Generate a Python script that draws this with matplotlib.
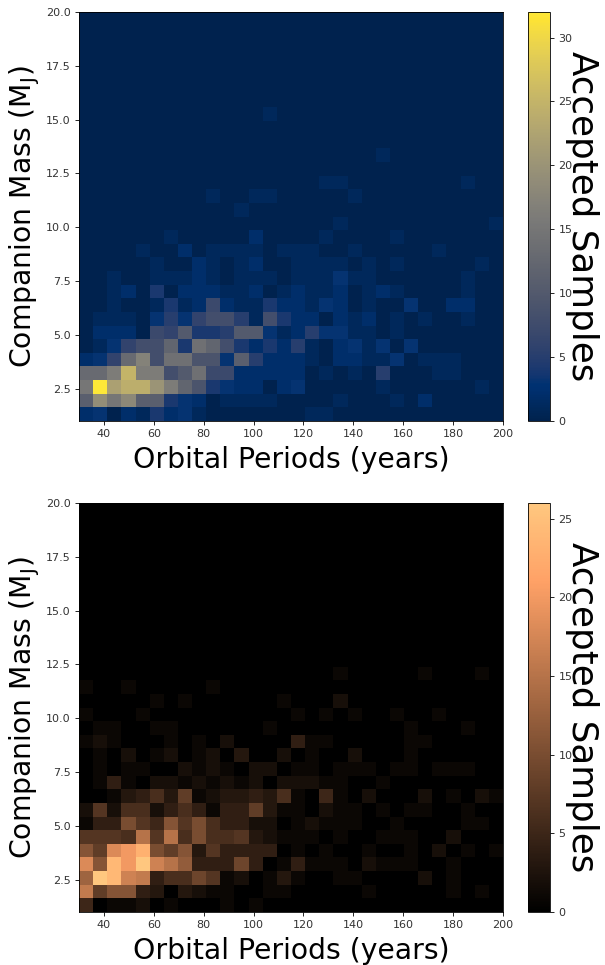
import numpy as np
import matplotlib
matplotlib.use("Agg")
import matplotlib.pyplot as plt

period_edges = np.linspace(30, 200, 31)
mass_edges = np.linspace(1, 20, 31)
x_ticks = [40, 60, 80, 100, 120, 140, 160, 180, 200]
y_ticks = [2.5, 5.0, 7.5, 10.0, 12.5, 15.0, 17.5, 20.0]

# rows run from the lowest mass bin upward, columns from the shortest period
counts_top = [
    [2,3,0,2,1,4,2,3,1,0,0,0,0,0,0, 0,1,1,0,0,0,0,0,0,0,0,0,0,0,0],
    [11,19,15,18,11,11,4,3,2,0,1,1,1,1,0, 0,0,0,1,0,0,0,1,0,2,0,0,0,0,0],
    [15,32,22,24,24,20,16,12,9,4,3,2,2,0,2, 3,0,0,0,0,0,1,0,0,0,0,0,0,1,0],
    [13,13,16,25,16,16,8,10,14,7,7,2,2,2,2, 2,0,1,0,1,0,5,0,0,0,1,1,0,0,0],
    [2,3,6,13,17,8,14,14,9,9,3,11,5,2,2, 2,1,0,2,2,1,1,3,0,1,1,1,0,0,0],
    [0,1,3,6,8,8,12,4,14,12,8,4,2,4,2, 5,1,0,2,3,1,3,0,3,0,0,0,0,0,0],
    [0,2,2,2,0,7,6,10,4,4,5,10,10,3,1, 2,5,3,3,1,1,0,1,0,0,0,0,0,0,0],
    [0,1,1,1,0,3,5,3,6,8,8,5,1,8,4, 2,2,0,2,1,2,0,1,0,1,0,0,1,0,0],
    [0,0,1,0,0,1,4,1,2,7,2,1,1,4,2, 2,1,3,2,0,1,0,0,3,0,0,2,2,0,0],
    [0,0,1,2,0,4,0,2,2,2,1,1,2,0,1, 2,1,1,2,0,1,2,1,0,0,0,0,1,0,0],
    [0,0,1,0,0,1,1,1,2,1,0,1,1,1,0, 1,1,1,3,1,1,0,0,0,0,0,0,1,0,0],
    [0,0,0,0,0,1,0,0,2,1,0,1,2,0,0, 1,1,1,1,0,1,0,1,0,0,0,0,0,1,0],
    [0,0,0,0,1,0,0,2,0,1,1,1,1,0,1, 1,1,0,0,1,0,0,0,0,0,1,0,0,0,0],
    [0,0,0,0,0,0,1,0,0,0,0,0,2,0,0, 0,0,1,0,0,0,0,1,0,0,0,0,0,0,0],
    [0,0,0,0,0,0,0,0,0,0,0,0,0,0,0, 0,0,0,1,0,0,0,0,0,0,0,0,0,0,1],
    [0,0,0,0,0,0,0,0,0,0,0,1,0,0,0, 0,0,0,0,0,0,0,0,0,0,0,0,0,0,0],
    [0,0,0,0,0,0,0,0,0,1,0,0,1,1,0, 0,0,0,0,1,0,0,0,0,0,0,0,0,0,0],
    [0,0,0,0,0,0,0,0,0,0,0,0,0,0,0, 0,0,1,1,0,0,0,0,0,0,0,0,1,0,0],
    [0,0,0,0,0,0,0,0,0,0,0,0,0,0,0, 0,0,0,0,0,0,0,0,0,0,0,0,0,0,0],
    [0,0,0,0,0,0,0,0,0,0,0,0,0,0,0, 0,0,0,0,0,0,1,0,0,0,0,0,0,0,0],
    [0,0,0,0,0,0,0,0,0,0,0,0,0,0,0, 0,0,0,0,0,0,0,0,0,0,0,0,0,0,0],
    [0,0,0,0,0,0,0,0,0,0,0,0,0,0,0, 0,0,0,0,0,0,0,0,0,0,0,0,0,0,0],
    [0,0,0,0,0,0,0,0,0,0,0,0,0,1,0, 0,0,0,0,0,0,0,0,0,0,0,0,0,0,0],
]

counts_bottom = [
    [5,0,1,1,2,0,1,0,0,0,1,0,1,0,0, 0,0,0,0,0,0,0,0,0,0,0,0,0,0,0],
    [16,8,11,11,4,3,0,3,2,1,1,0,0,1,1, 0,0,0,0,0,1,0,0,0,0,0,1,0,1,0],
    [13,26,24,17,16,4,6,6,9,7,1,2,0,1,3, 1,0,0,1,1,0,0,0,0,2,0,1,0,0,0],
    [18,11,24,20,26,17,15,12,4,4,4,9,4,0,1, 4,1,1,1,0,2,1,1,1,0,0,1,0,0,0],
    [11,8,18,20,23,10,8,11,3,7,4,4,4,4,0, 1,0,1,0,0,1,0,0,1,0,2,0,1,0,1],
    [7,7,7,6,15,7,15,6,10,6,6,7,3,2,1, 1,1,0,1,0,0,1,1,1,0,0,2,0,0,0],
    [1,4,4,10,7,5,11,7,10,6,4,4,2,2,0, 1,2,1,1,1,0,0,1,0,0,0,0,1,1,0],
    [2,7,2,6,6,2,4,6,4,1,4,4,8,3,1, 1,0,2,1,1,0,1,0,1,1,0,0,1,0,0],
    [0,0,1,3,4,6,3,8,1,2,3,3,4,3,6, 1,0,5,1,0,2,0,0,0,2,0,1,0,2,1],
    [0,1,4,1,0,2,2,1,2,1,2,1,2,0,2, 2,2,1,1,0,0,1,0,0,0,0,0,0,0,0],
    [0,1,0,1,1,0,0,2,1,2,1,0,2,2,0, 1,1,0,1,1,1,0,1,1,0,1,1,1,0,0],
    [0,1,0,2,0,1,2,0,1,2,0,3,0,0,2, 0,1,0,0,2,0,0,0,1,0,0,0,0,0,0],
    [1,2,1,0,0,0,1,0,1,0,2,0,0,0,0, 4,1,1,0,0,0,0,0,1,1,0,0,0,0,0],
    [0,1,1,0,0,1,1,0,0,0,0,0,0,1,0, 0,0,0,0,0,0,0,0,1,0,0,0,1,0,0],
    [1,0,0,0,1,0,0,0,0,0,0,0,0,0,0, 1,0,1,0,1,0,0,1,0,0,1,0,0,0,0],
    [0,0,0,0,0,1,0,1,0,0,0,0,0,0,1, 0,0,0,2,0,0,0,0,0,0,0,0,0,0,0],
    [1,0,0,1,0,0,0,0,0,1,0,0,0,0,0, 0,0,0,0,0,0,0,0,0,0,0,0,0,0,0],
    [0,0,0,0,0,0,0,0,0,0,0,0,0,0,0, 0,0,0,1,0,0,0,0,0,1,0,0,0,1,0],
]


def to_grid(rows):
    grid = np.zeros((30, 30))
    grid[:len(rows)] = rows
    return grid


W, H = 605, 965
fig = plt.figure(figsize=(W / 100, H / 100), dpi=100)
TICK_GREY = "#333333"


def panel(top, counts, cmap, vmax, cticks):
    ax = fig.add_axes([79 / W, 1 - (top + 409) / H, 424 / W, 409 / H])
    mesh = ax.pcolormesh(period_edges, mass_edges, to_grid(counts),
                         cmap=cmap, vmin=0, vmax=vmax)
    ax.set_xticks(x_ticks)
    ax.set_yticks(y_ticks)
    ax.tick_params(labelsize=8, length=3, width=0.6, pad=3, labelcolor=TICK_GREY)
    ax.set_xlabel("Orbital Periods (years)", fontsize=20.3, labelpad=4.5)
    ax.set_ylabel(r"Companion Mass (M$_{\mathrm{J}}$)", fontsize=20.3, labelpad=3)
    for s in ax.spines.values():
        s.set_linewidth(0.6)
    cax = fig.add_axes([528 / W, 1 - (top + 409) / H, 22 / W, 409 / H])
    cb = fig.colorbar(mesh, cax=cax, ticks=cticks)
    cb.ax.tick_params(labelsize=8, length=3, width=0.6, pad=3, labelcolor=TICK_GREY)
    cb.outline.set_linewidth(0.6)
    cb.set_label("Accepted Samples", rotation=270, fontsize=25.7, labelpad=19)


panel(12, counts_top, "cividis", 32, [0, 5, 10, 15, 20, 25, 30])
panel(503, counts_bottom, "copper", 26, [0, 5, 10, 15, 20, 25])

fig.savefig("out.png", dpi=100)
